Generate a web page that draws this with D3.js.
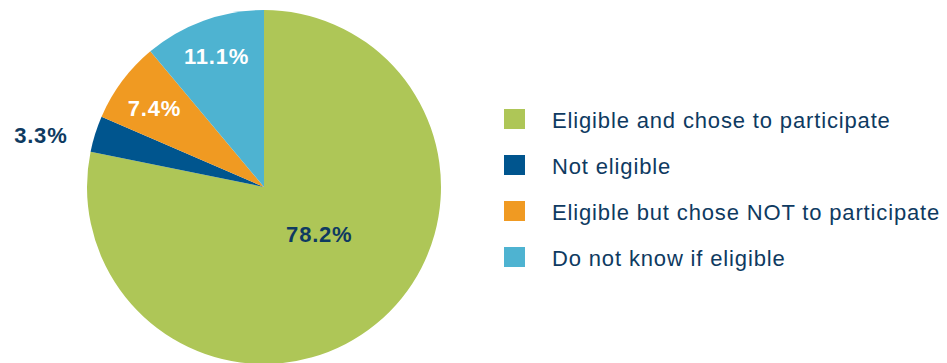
<!DOCTYPE html>
<html>
<head>
<meta charset="utf-8">
<script src="https://cdn.jsdelivr.net/npm/d3@7/dist/d3.min.js"></script>
<style>
  html, body { margin: 0; padding: 0; background: #fff; }
  svg { display: block; font-family: "Liberation Sans", Arial, Helvetica, sans-serif; }
</style>
</head>
<body>
<svg id="chart" width="947" height="363"></svg>
<script>
// Survey response shares (percent)
const categories = [
  "Eligible and chose to participate",
  "Not eligible",
  "Eligible but chose NOT to participate",
  "Do not know if eligible"
];
const values = [78.2, 3.3, 7.4, 11.1];
const valueLabels = ["78.2%", "3.3%", "7.4%", "11.1%"];

const colors = ["#AEC657", "#00558E", "#F09A22", "#4EB3D1"];
const labelColors = ["#0E3A61", "#0E3A61", "#ffffff", "#ffffff"];
// distance of each value label from the pie centre, and a small angular nudge (degrees)
const labelRadius = [73, 229, 135, 139];
const labelAngleShift = [-10, -4.5, -1, 0];

const svg = d3.select("#chart");
const cx = 264, cy = 187, r = 177;

const data = categories.map((c, i) => ({ category: c, value: values[i], i }));

const pie = d3.pie().value(d => d.value).sort(null);
const arcs = pie(data);
const arc = d3.arc().innerRadius(0).outerRadius(r);

const g = svg.append("g").attr("transform", `translate(${cx},${cy})`);

g.selectAll("path.slice")
  .data(arcs)
  .join("path")
  .attr("class", "slice")
  .attr("d", arc)
  .attr("fill", d => colors[d.data.i]);

g.selectAll("text.value")
  .data(arcs)
  .join("text")
  .attr("class", "value")
  .attr("transform", d => {
    const a = (d.startAngle + d.endAngle) / 2 + labelAngleShift[d.data.i] * Math.PI / 180;
    const lr = labelRadius[d.data.i];
    return `translate(${Math.sin(a) * lr},${-Math.cos(a) * lr})`;
  })
  .attr("text-anchor", "middle")
  .attr("dominant-baseline", "central")
  .attr("font-size", 22)
  .attr("font-weight", "bold")
  .attr("letter-spacing", 0.8)
  .attr("fill", d => labelColors[d.data.i])
  .text(d => valueLabels[d.data.i]);

// Legend
const legendY = d3.scalePoint()
  .domain(categories)
  .range([119, 257]);

const legend = svg.append("g").selectAll("g")
  .data(categories)
  .join("g")
  .attr("transform", d => `translate(504,${legendY(d)})`);

legend.append("rect")
  .attr("x", 0)
  .attr("y", -10)
  .attr("width", 21)
  .attr("height", 20)
  .attr("fill", (d, i) => colors[i]);

legend.append("text")
  .attr("x", 48)
  .attr("y", 1)
  .attr("dominant-baseline", "central")
  .attr("font-size", 22)
  .attr("letter-spacing", 0.85)
  .attr("fill", "#0E3A61")
  .text(d => d);
</script>
</body>
</html>
